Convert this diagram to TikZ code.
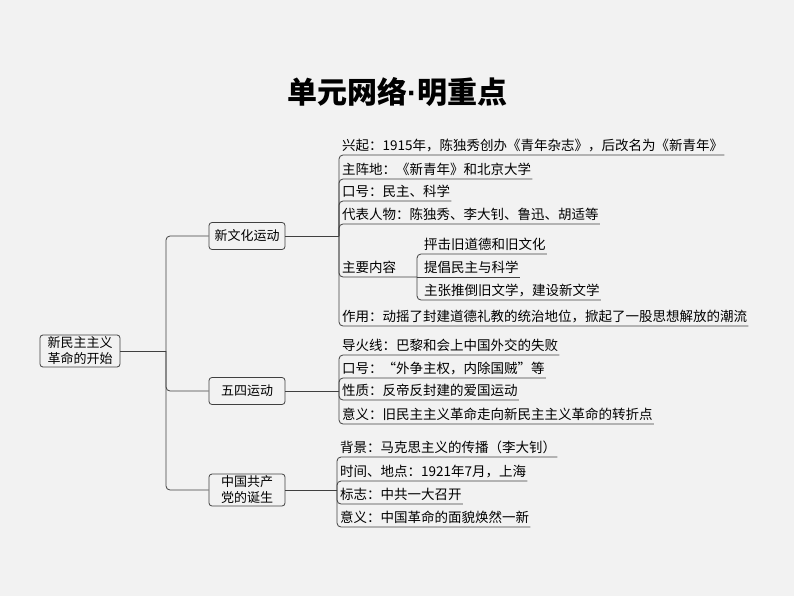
\documentclass[tikz,border=0pt]{standalone}
\usepackage{fontspec}
\setmainfont{Noto Sans CJK SC}
\newfontfamily\dotfont{Liberation Sans}
\usetikzlibrary{positioning}
\definecolor{mapline}{RGB}{64,64,64}
\definecolor{mapbg}{RGB}{242,242,242}

\begin{document}
\begin{tikzpicture}[x=1pt, y=-1pt,
    box/.style={draw=mapline, rounded corners=3pt, line width=0.8pt, fill=mapbg, minimum width=76pt, inner sep=2pt, align=center, font=\fontsize{13}{16}\selectfont},
    leaf/.style={anchor=south west, inner xsep=1pt, inner ysep=3pt, font=\fontsize{13.5}{16}\selectfont},
    conn/.style={draw=mapline, line width=0.8pt, rounded corners=4pt}]
    \fill[mapbg] (0,0) rectangle (794,596);
    \useasboundingbox (0,0) rectangle (794,596);

    % Title
    \node[font=\fontsize{30}{34}\selectfont\bfseries] (title) at (397,92) {单元网络{\dotfont ·}明重点};

    % Root and the three branches
    \node[box, minimum width=80pt, minimum height=32pt] (root) at (80,351) {新民主主义\\革命的开始};
    \node[box, minimum height=27pt] (xwh) at (247,236) {新文化运动};
    \node[box, minimum height=27pt] (wsyd) at (247,391) {五四运动};
    \node[box, minimum height=32pt] (zgcd) at (247,490) {中国共产\\党的诞生};

    \coordinate (j0) at (166,351);
    \coordinate (j1) at (339,236);
    \coordinate (j2) at (339,391);
    \coordinate (j3) at (337,490);
    \coordinate (j4) at (417,277);

    \draw[conn] (root.east) -- (j0);
    \foreach \b in {xwh, wsyd, zgcd} {
        \draw[conn] (j0) |- (\b.west);
    }
    \draw[conn] (xwh.east) -- (j1);
    \draw[conn] (wsyd.east) -- (j2);
    \draw[conn] (zgcd.east) -- (j3);

    % New Culture Movement
    \foreach \i/\y/\lab in {1/155/兴起：1915年，陈独秀创办《青年杂志》，后改名为《新青年》, 2/179/主阵地：《新青年》和北京大学, 3/201/口号：民主、科学, 4/224/代表人物：陈独秀、李大钊、鲁迅、胡适等, 6/326/作用：动摇了封建道德礼教的统治地位，掀起了一股思想解放的潮流} {
        \node[leaf] (a\i) at (341,\y) {\lab};
        \draw[conn] (j1) |- (a\i.south east);
    }
    \node[leaf] (a5) at (341,277) {主要内容};
    \draw[conn] (j1) |- (j4);
    \foreach \i/\y/\lab in {1/254/抨击旧道德和旧文化, 3/300/主张推倒旧文学，建设新文学} {
        \node[leaf] (s\i) at (423,\y) {\lab};
        \draw[conn] (j4) |- (s\i.south east);
    }
    \node[leaf] (s2) at (423,277) {提倡民主与科学};
    \draw[conn] (j4) -- (s2.south east);

    % May Fourth Movement
    \foreach \i/\y/\lab in {1/355/导火线：巴黎和会上中国外交的失败, 2/378/口号：“外争主权，内除国贼”等, 3/400/性质：反帝反封建的爱国运动, 4/424/意义：旧民主主义革命走向新民主主义革命的转折点} {
        \node[leaf] (b\i) at (341,\y) {\lab};
        \draw[conn] (j2) |- (b\i.south east);
    }

    % Founding of the CPC
    \foreach \i/\y/\lab in {1/457/背景：马克思主义的传播（李大钊）, 2/481/时间、地点：1921年7月，上海, 3/504/标志：中共一大召开, 4/527/意义：中国革命的面貌焕然一新} {
        \node[leaf] (c\i) at (339,\y) {\lab};
        \draw[conn] (j3) |- (c\i.south east);
    }
\end{tikzpicture}
\end{document}
